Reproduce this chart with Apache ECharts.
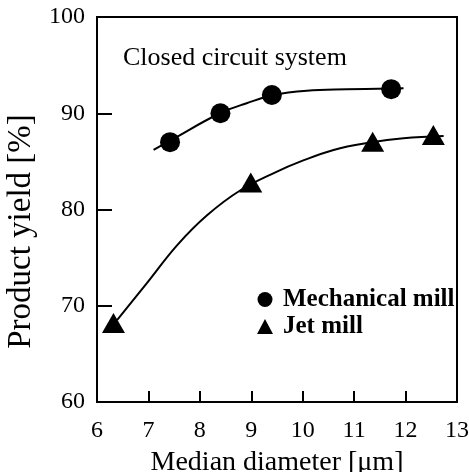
<!DOCTYPE html>
<html><head><meta charset="utf-8">
<script src="https://cdn.jsdelivr.net/npm/echarts@6/dist/echarts.min.js"></script>
<style>html,body{margin:0;padding:0;background:#fff}#c{width:469px;height:472px}</style>
</head><body><div id="c"></div>
<script>
var xTicks = [6, 7, 8, 9, 10, 11, 12, 13];
var yTicks = [60, 70, 80, 90, 100];
var mechPoints = [[7.42, 87.0], [8.40, 90.0], [9.40, 91.9], [11.72, 92.5]];
var jetPoints = [[6.32, 68.2], [8.99, 82.8], [11.36, 87.05], [12.54, 87.75]];
var mechCurve = [[7.10, 86.2], [7.42, 87.15], [8.39, 90.0], [8.91, 91.04], [9.43, 91.9], [10.08, 92.35], [10.86, 92.49], [11.96, 92.6]];
var jetCurve = [[6.39, 68.5], [6.97, 72.35], [7.56, 76.3], [8.14, 79.4], [8.79, 82.0], [9.5, 83.94], [9.95, 84.97], [10.6, 86.19], [11.31, 86.95], [11.96, 87.4], [12.74, 87.64]];
var seriesNames = ['Mechanical mill', 'Jet mill'];
var noteText = 'Closed circuit system';
var xName = 'Median diameter [\u03bcm]';
var yName = 'Product yield [%]';

var FONT = 'Liberation Serif';
var chart = echarts.init(document.getElementById('c'), null, {renderer: 'canvas'});
chart.setOption({
  animation: false,
  backgroundColor: '#fff',
  grid: {left: 97, right: 12, top: 17, bottom: 70, containLabel: false, outerBoundsMode: 'none',
         show: true, borderColor: '#000', borderWidth: 2, backgroundColor: 'transparent'},
  title: {text: noteText, left: 118, top: 40, textStyle: {fontFamily: FONT, fontSize: 26, fontWeight: 'normal', color: '#000'}},
  legend: {
    orient: 'vertical', left: 252, top: 282, itemWidth: 16, itemHeight: 15, itemGap: 2,
    textStyle: {fontFamily: FONT, fontSize: 25, fontWeight: 'bold', color: '#000', padding: [0, 0, 0, 5]},
    data: [{name: seriesNames[0], icon: 'circle'}, {name: seriesNames[1], icon: 'triangle'}]
  },
  xAxis: {
    type: 'value', min: xTicks[0], max: xTicks[xTicks.length - 1], interval: 1,
    name: xName, nameLocation: 'middle', nameGap: 47,
    nameTextStyle: {fontFamily: FONT, fontSize: 28, color: '#000'},
    axisLine: {lineStyle: {color: '#000', width: 2}},
    axisTick: {inside: true, length: 11, lineStyle: {color: '#000', width: 2}},
    axisLabel: {fontFamily: FONT, fontSize: 24, color: '#000', margin: 17},
    splitLine: {show: false}
  },
  yAxis: {
    type: 'value', min: yTicks[0], max: yTicks[yTicks.length - 1], interval: 10,
    name: yName, nameLocation: 'middle', nameGap: 59,
    nameTextStyle: {fontFamily: FONT, fontSize: 33, color: '#000', padding: [0, 44, 0, 0]},
    axisLine: {lineStyle: {color: '#000', width: 2}},
    axisTick: {inside: true, length: 15, lineStyle: {color: '#000', width: 2}},
    axisLabel: {fontFamily: FONT, fontSize: 24, color: '#000', margin: 12},
    splitLine: {show: false}
  },
  series: [
    {type: 'line', data: mechCurve, smooth: 0.4, symbol: 'none', lineStyle: {color: '#000', width: 2}, silent: true, z: 2},
    {type: 'line', data: jetCurve, smooth: 0.4, symbol: 'none', lineStyle: {color: '#000', width: 2}, silent: true, z: 2},
    {name: seriesNames[0], type: 'scatter', data: mechPoints, symbol: 'circle', symbolSize: 20, itemStyle: {color: '#000', opacity: 1}, z: 3},
    {name: seriesNames[1], type: 'scatter', data: jetPoints, symbol: 'triangle', symbolSize: [23, 20], itemStyle: {color: '#000', opacity: 1}, z: 3}
  ]
});
</script></body></html>
